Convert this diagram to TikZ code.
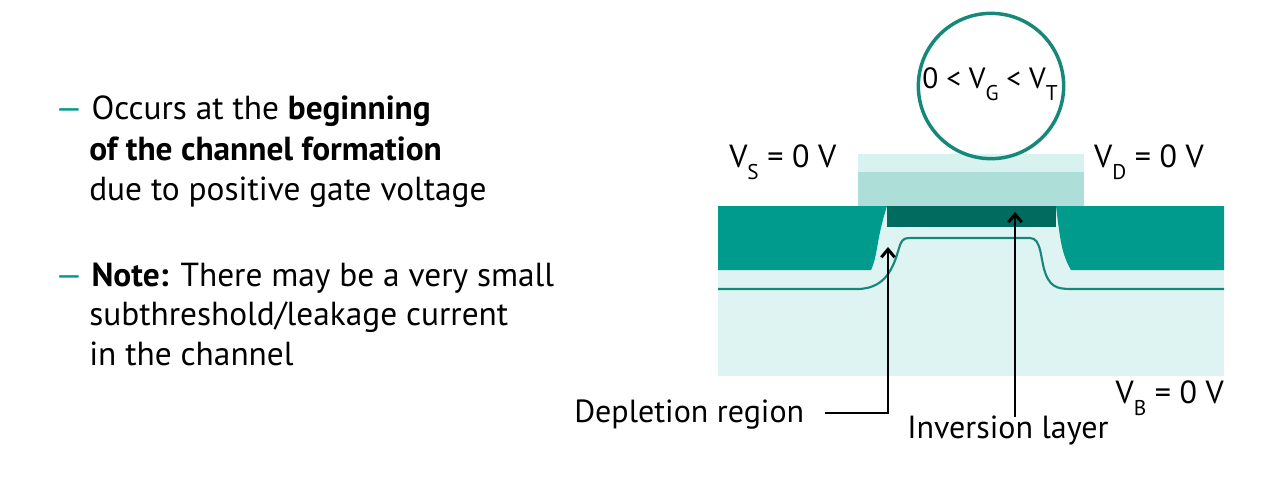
\documentclass[tikz,border=0pt]{standalone}
\usetikzlibrary{arrows.meta}
\usepackage{fontspec}
\setmainfont{PT Sans}
\definecolor{teal1}{HTML}{009B8C}
\definecolor{tealc}{HTML}{16887A}
\definecolor{tealdk}{HTML}{006B5E}
\definecolor{sub}{HTML}{DDF4F2}
\definecolor{gatelt}{HTML}{D8F2EF}
\definecolor{gatemd}{HTML}{ADDFD8}
\newcommand{\lsub}[1]{\raisebox{-0.4em}{\fontsize{16}{16}\selectfont #1}}
\begin{document}
\begin{tikzpicture}[x=0.75pt,y=-0.75pt,
  txt/.style={font=\fontsize{25}{29}\selectfont,inner sep=0,anchor=base west,align=left},
  lab/.style={font=\fontsize{24}{28}\selectfont,inner sep=0},
  arr/.style={line width=2.2pt,-{Straight Barb[length=6pt,width=10pt]}}]
\useasboundingbox (0,0) rectangle (1280,476);
% left text
\node[txt] (t1) at (55,119) {\textcolor{teal1}{—} Occurs at the \textbf{beginning}};
\node[txt] (t2) at (89,160) {\textbf{of the channel formation}};
\node[txt] (t3) at (89,200) {due to positive gate voltage};
\node[txt] (t4) at (55,286) {\textcolor{teal1}{—} \textbf{Note:} There may be a very small};
\node[txt] (t5) at (89,325) {subthreshold/leakage current};
\node[txt] (t6) at (89,365) {in the channel};
% substrate
\fill[sub] (718,206) rectangle (1224,376);
% gate
\fill[gatelt] (858,154) rectangle (1084,172);
\fill[gatemd] (858,172) rectangle (1084,206);
% source / drain
\fill[teal1] (718,206) -- (887,206) .. controls (876,240) and (878,255) .. (871,270) -- (718,270) -- cycle;
\fill[teal1] (1224,206) -- (1056,206) .. controls (1060,240) and (1062,255) .. (1071,270) -- (1224,270) -- cycle;
% inversion layer
\fill[tealdk] (887,206) rectangle (1056,227);
% depletion boundary
\draw[tealc,line width=1.6pt] (718,289) -- (857,289) .. controls (890,289) and (895,260) .. (900,245)
  .. controls (903,238) and (905,238) .. (912,238) -- (1030,238)
  .. controls (1042,238) and (1040,260) .. (1046,275) .. controls (1052,289) and (1060,289) .. (1075,289) -- (1224,289);
% circle
\node[circle,draw=tealc,line width=2.6pt,minimum size=109pt,inner sep=0] (c) at (991,86) {};
\node[lab,font=\fontsize{22}{26}\selectfont] (cl) at (990,84) {0 < V\lsub{G} < V\lsub{T}};
% labels
\node[lab,anchor=base west] (vs) at (729,167) {V\lsub{S} = 0 V};
\node[lab,anchor=base east] (vd) at (1204,167) {V\lsub{D} = 0 V};
\node[lab,anchor=base east] (vb) at (1224,403) {V\lsub{B} = 0 V};
\node[lab,anchor=base west] (dl) at (574,422) {Depletion region};
\node[lab,anchor=base west] (il) at (907,438) {Inversion layer};
\coordinate (da) at (888,247);
\coordinate (ia) at (1015,212);
\draw[line width=2.2pt] (825,413) -- (888,413) -- (888,265);
\draw[arr] (888,414) -- (da);
\draw[arr] (1015,417) -- (ia);
\end{tikzpicture}
\end{document}
